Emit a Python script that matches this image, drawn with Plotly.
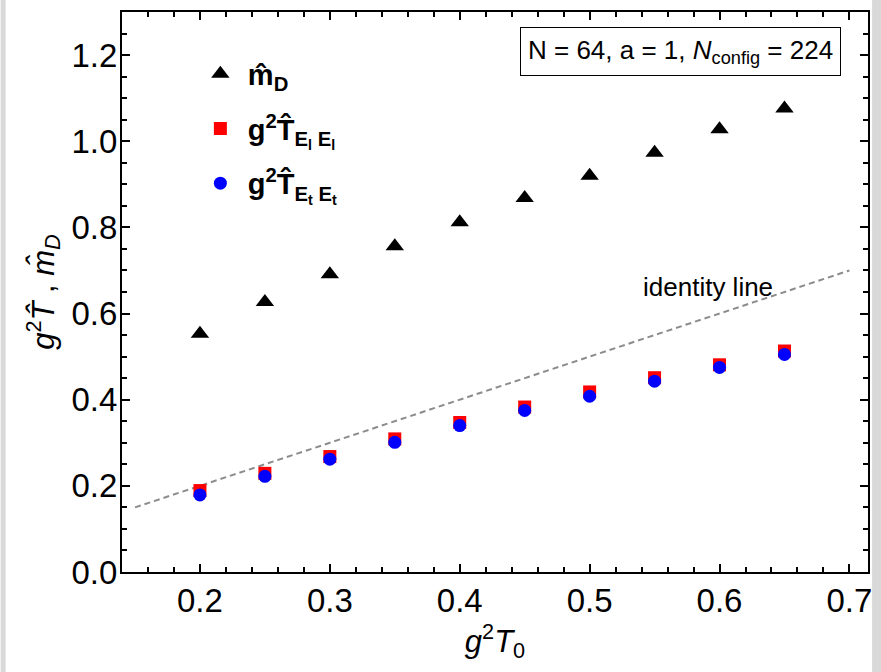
import plotly.graph_objects as go

# Data
g2T0 = [0.20, 0.25, 0.30, 0.35, 0.40, 0.45, 0.50, 0.55, 0.60, 0.65]
mD_hat = [0.553, 0.627, 0.691, 0.756, 0.812, 0.868, 0.920, 0.973, 1.028, 1.076]
T_ElEl = [0.189, 0.229, 0.268, 0.309, 0.347, 0.383, 0.418, 0.451, 0.481, 0.513]
T_EtEt = [0.179, 0.222, 0.262, 0.301, 0.340, 0.375, 0.408, 0.443, 0.475, 0.505]
identity_x = [0.15, 0.70]
identity_y = [0.15, 0.70]

x_ticks = [0.2, 0.3, 0.4, 0.5, 0.6, 0.7]
y_ticks = [0.0, 0.2, 0.4, 0.6, 0.8, 1.0, 1.2]

FONT = "Liberation Sans, Arial, sans-serif"

fig = go.Figure()

fig.add_trace(go.Scatter(
    x=identity_x, y=identity_y, mode="lines",
    line=dict(color="#8c8c8c", width=2, dash="6px,4px"),
    showlegend=False, hoverinfo="skip"))

fig.add_trace(go.Scatter(
    x=g2T0, y=mD_hat, mode="markers", name="m\u0302<sub>D</sub>",
    legendgroup="a",
    marker=dict(symbol="triangle-up", size=16, color="black")))
fig.add_trace(go.Scatter(
    x=g2T0, y=T_ElEl, mode="markers",
    name="g<sup>2</sup>T\u0302<sub>E<sub>l</sub> E<sub>l</sub></sub>",
    legendgroup="b",
    marker=dict(symbol="square", size=13, color="#ff0000")))
fig.add_trace(go.Scatter(
    x=g2T0, y=T_EtEt, mode="markers",
    name="g<sup>2</sup>T\u0302<sub>E<sub>t</sub> E<sub>t</sub></sub>",
    legendgroup="c",
    marker=dict(symbol="circle", size=13, color="#0000ff")))

axis_common = dict(
    showline=True, linecolor="black", linewidth=2, mirror="allticks",
    ticks="inside", ticklen=8, tickwidth=2, tickcolor="black",
    showgrid=False, zeroline=False,
    tickfont=dict(family=FONT, size=33, color="black"),
)

fig.update_xaxes(
    range=[0.14, 0.7143], tickvals=x_ticks,
    ticktext=[f"{v:.1f}" for v in x_ticks],
    minor=dict(dtick=0.02, ticks="inside", ticklen=5, tickwidth=2, tickcolor="black"),
    title=dict(text="<i>g</i><sup>2</sup><i>T</i><sub>0</sub>",
               font=dict(family=FONT, size=31, color="black"), standoff=1),
    ticklabelstandoff=-2,
    **axis_common)
fig.update_yaxes(
    range=[0, 1.3], tickvals=y_ticks,
    ticktext=[f"{v:.1f}" for v in y_ticks],
    minor=dict(dtick=0.05, ticks="inside", ticklen=5, tickwidth=2, tickcolor="black"),
    title=dict(text="<i>g</i><sup>2</sup><i>T\u0302</i> , <i>m\u0302</i><sub><i>D</i></sub>",
               font=dict(family=FONT, size=31, color="black"), standoff=8),
    ticklabelstandoff=-4,
    **axis_common)

fig.add_annotation(
    xref="paper", yref="paper", x=0.7493, y=0.929, xanchor="center", yanchor="middle",
    text="N = 64, a = 1, <i>N</i><sub>config</sub> = 224",
    showarrow=False, font=dict(family=FONT, size=26, color="black"),
    bordercolor="black", borderwidth=1, borderpad=7, bgcolor="white")
fig.add_annotation(
    xref="paper", yref="paper", x=0.785, y=0.509, xanchor="center", yanchor="middle",
    text="identity line", showarrow=False,
    font=dict(family=FONT, size=26, color="black"))

# light gray strips at the page edges
fig.add_shape(type="rect", xref="paper", yref="paper", x0=-0.1627, x1=-0.156,
              y0=-0.2, y1=1.03, fillcolor="#d9d9d9", line_width=0, layer="below")
fig.add_shape(type="rect", xref="paper", yref="paper", x0=1.0055, x1=1.02,
              y0=-0.2, y1=1.03, fillcolor="#d9d9d9", line_width=0, layer="below")

fig.update_layout(
    width=881, height=672,
    margin=dict(l=122, r=9, t=12, b=100),
    paper_bgcolor="white", plot_bgcolor="white",
    font=dict(family=FONT, color="black"),
    legend=dict(x=0.095, y=0.935, xanchor="left", yanchor="top",
                bgcolor="rgba(0,0,0,0)", tracegroupgap=14, itemwidth=45,
                font=dict(family=FONT, size=29, color="black", weight="bold")),
)

fig.write_html("out.html",
               post_script="document.body.style.margin='0';"
                           "document.body.style.overflow='hidden';"
                           "document.documentElement.style.overflow='hidden';")
